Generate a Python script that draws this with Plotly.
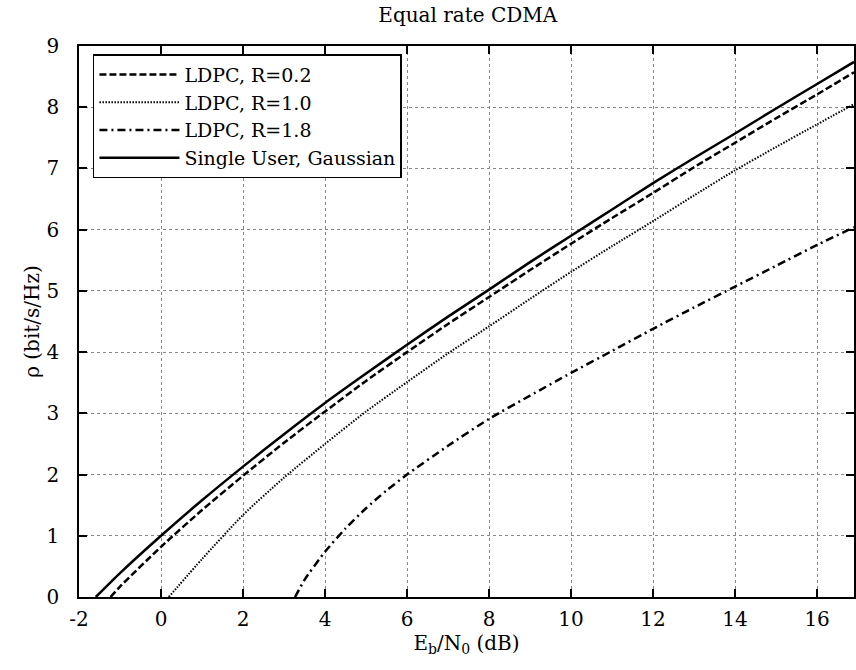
import plotly.graph_objects as go

# Values
ebno_single = [-1.59, -1.0, 0.0, 1.0, 2.0, 3.0, 4.0, 5.0, 6.0, 7.0, 8.0, 9.0, 10.0, 11.0, 12.0, 13.0, 14.0, 15.0, 16.0, 16.9]
rho_single = [0.0, 0.39, 1.0, 1.58, 2.13, 2.66, 3.17, 3.65, 4.12, 4.58, 5.02, 5.47, 5.90, 6.33, 6.76, 7.17, 7.57, 7.98, 8.38, 8.74]

ebno_r02 = [-1.23, -1.0, 0.0, 1.0, 2.0, 3.0, 4.0, 5.0, 6.0, 7.0, 8.0, 9.0, 10.0, 11.0, 12.0, 13.0, 14.0, 15.0, 16.0, 16.9]
rho_r02 = [0.0, 0.17, 0.82, 1.42, 1.98, 2.52, 3.03, 3.53, 4.00, 4.46, 4.90, 5.34, 5.77, 6.19, 6.60, 7.02, 7.42, 7.82, 8.21, 8.57]

ebno_r10 = [0.19, 1.0, 2.0, 3.0, 4.0, 5.0, 6.0, 7.0, 8.0, 9.0, 10.0, 11.0, 12.0, 13.0, 14.0, 15.0, 16.0, 16.9]
rho_r10 = [0.0, 0.62, 1.34, 1.95, 2.50, 3.03, 3.51, 3.98, 4.42, 4.87, 5.31, 5.73, 6.14, 6.56, 6.97, 7.35, 7.72, 8.05]

ebno_r18 = [3.27, 3.5, 4.0, 4.5, 5.0, 5.5, 6.0, 7.0, 8.0, 9.0, 10.0, 11.0, 12.0, 13.0, 14.0, 15.0, 16.0, 16.9]
rho_r18 = [0.0, 0.28, 0.74, 1.12, 1.45, 1.74, 2.00, 2.47, 2.91, 3.29, 3.66, 4.02, 4.38, 4.73, 5.07, 5.41, 5.75, 6.04]

x_ticks = [-2, 0, 2, 4, 6, 8, 10, 12, 14, 16]
y_ticks = [0, 1, 2, 3, 4, 5, 6, 7, 8, 9]

FONT = "DejaVu Serif, Liberation Serif, serif"

fig = go.Figure()
fig.add_trace(go.Scatter(x=ebno_r02, y=rho_r02, mode="lines", name="LDPC, R=0.2",
                         line=dict(color="black", width=2.5, dash="7px,3px", shape="spline", smoothing=0.6)))
fig.add_trace(go.Scatter(x=ebno_r10, y=rho_r10, mode="lines", name="LDPC, R=1.0",
                         line=dict(color="black", width=2, dash="1.5px,1.5px", shape="spline", smoothing=0.6)))
fig.add_trace(go.Scatter(x=ebno_r18, y=rho_r18, mode="lines", name="LDPC, R=1.8",
                         line=dict(color="black", width=2.5, dash="8px,4px,2px,4px", shape="spline", smoothing=0.6)))
fig.add_trace(go.Scatter(x=ebno_single, y=rho_single, mode="lines", name="Single User, Gaussian",
                         line=dict(color="black", width=2.5, shape="spline", smoothing=0.6)))

axis_common = dict(
    showline=True, linecolor="black", linewidth=1.5, mirror="ticks",
    ticks="inside", ticklen=8, tickwidth=1.5, tickcolor="black",
    showgrid=True, gridcolor="#888888", gridwidth=1, griddash="dot",
    zeroline=False, tickfont=dict(family=FONT, size=20, color="black"),
)

fig.update_xaxes(range=[-2, 16.9], tickvals=x_ticks, ticktext=[str(v) for v in x_ticks],
                 title=dict(text="E<sub>b</sub>/N<sub>0</sub> (dB)", font=dict(family=FONT, size=20, color="black"), standoff=2),
                 ticklabelstandoff=3, **axis_common)
fig.update_yaxes(range=[0, 9], tickvals=y_ticks, ticktext=[str(v) for v in y_ticks],
                 title=dict(text="ρ (bit/s/Hz)", font=dict(family=FONT, size=20, color="black"), standoff=2),
                 ticklabelstandoff=14, **axis_common)

fig.update_layout(
    width=856, height=670,
    margin=dict(l=79, r=0, t=46, b=73),
    paper_bgcolor="white", plot_bgcolor="white",
    font=dict(family=FONT, color="black"),
    title=dict(text="Equal rate CDMA", x=0.5465, xanchor="center", y=0.978, yanchor="middle",
               yref="container", font=dict(family=FONT, size=20, color="black")),
    legend=dict(x=0.018, y=0.985, xanchor="left", yanchor="top",
                bgcolor="white", bordercolor="black", borderwidth=1.5,
                font=dict(family=FONT, size=19, color="black"),
                itemwidth=80, tracegroupgap=0),
    showlegend=True,
)

fig.write_html("out.html", config={"displayModeBar": False},
               post_script="document.body.style.margin='0';document.body.style.overflow='hidden';")
